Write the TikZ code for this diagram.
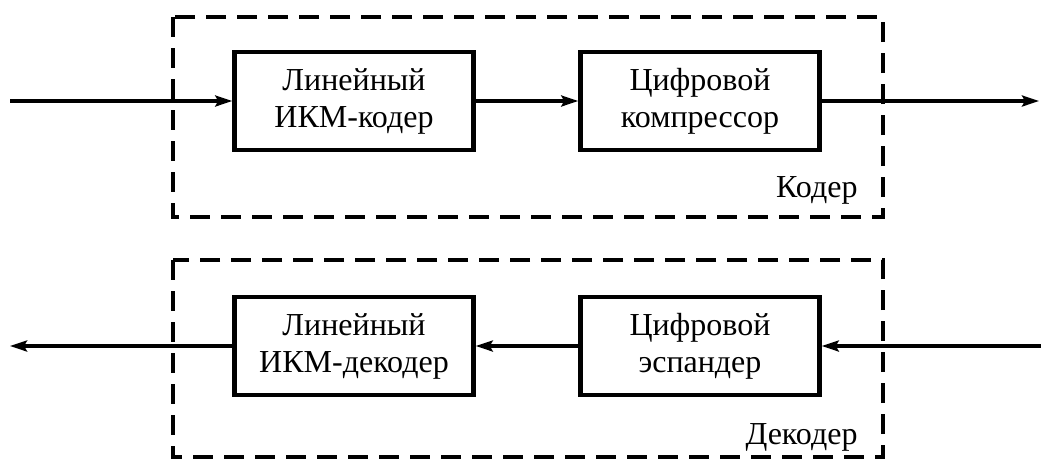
\documentclass[tikz,border=0pt]{standalone}
\usepackage{fontspec}
\setmainfont{Liberation Serif}
\usetikzlibrary{arrows.meta,positioning}

\begin{document}
\begin{tikzpicture}[x=1pt,y=-1pt,
	font=\fontsize{32}{37}\selectfont,
	block/.style={draw,line width=4.5pt,minimum width=239pt,minimum height=98pt,align=center,inner sep=0pt},
	frame/.style={line width=4pt,dash pattern=on 20pt off 11pt},
	link/.style={line width=3.3pt,-{Stealth[length=17pt,width=11pt,inset=3pt]}}]
		\useasboundingbox (0,0) rectangle (1041,459);
		% coder
		\draw[frame] (173,17) rectangle (883,217);
		\node[block] (lin) at (354,101) {Линейный\\ИКМ-кодер};
		\node[block] (comp) at (700,101) {Цифровой\\компрессор};
		\node[anchor=base east] (coder) at (861,197) {Кодер};
		\coordinate (in) at (10,101);
		\coordinate (out) at (1039,101);
		\draw[link] (in) -- (lin);
		\draw[link] (lin) -- (comp);
		\draw[link] (comp) -- (out);
		% decoder
		\draw[frame] (173,260) rectangle (883,457);
		\node[block] (lindec) at (354,346) {Линейный\\ИКМ-декодер};
		\node[block] (exp) at (700,346) {Цифровой\\эспандер};
		\node[anchor=base east] (decoder) at (861,444) {Декодер};
		\coordinate (din) at (1041,346);
		\coordinate (dout) at (10,346);
		\draw[link] (din) -- (exp);
		\draw[link] (exp) -- (lindec);
		\draw[link] (lindec) -- (dout);
\end{tikzpicture}
\end{document}
